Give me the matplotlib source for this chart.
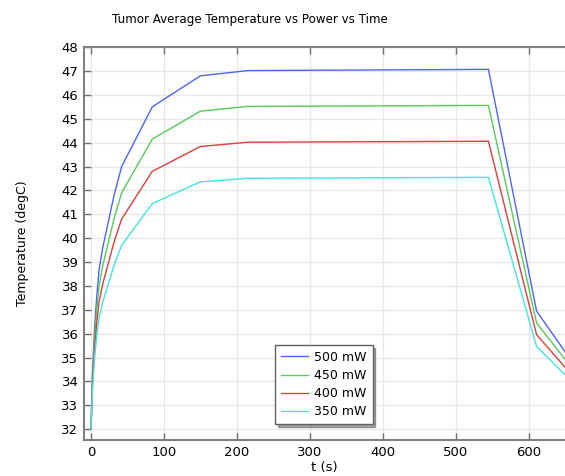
import numpy as np
import matplotlib
matplotlib.use("Agg")
import matplotlib.pyplot as plt

# time points (s)
t = [0, 2, 5, 8, 11, 16, 21, 32, 42, 84, 150, 215, 545, 611, 650]

# average tumour temperature (degC) for each power
temp_500 = [32, 34.3, 36.3, 37.6, 38.65, 39.6, 40.3, 41.85, 43.0, 45.5, 46.8, 47.02, 47.07, 36.95, 35.25]
temp_450 = [32, 34.07, 35.87, 37.04, 37.99, 38.84, 39.47, 40.87, 41.9, 44.15, 45.32, 45.52, 45.56, 36.45, 34.93]
temp_400 = [32, 33.84, 35.44, 36.48, 37.32, 38.08, 38.64, 39.88, 40.8, 42.8, 43.84, 44.02, 44.06, 35.96, 34.6]
temp_350 = [32, 33.61, 35.01, 35.92, 36.66, 37.32, 37.81, 38.9, 39.7, 41.45, 42.36, 42.51, 42.55, 35.47, 34.28]

labels = ["500 mW", "450 mW", "400 mW", "350 mW"]
colors = ["#4a64ff", "#55cc55", "#e03c3c", "#3ee6e6"]
series = [temp_500, temp_450, temp_400, temp_350]

fig = plt.figure(figsize=(5.65, 4.76), dpi=100)
ax = fig.add_axes([84/565, 1-440/476, 1-84/565, (440-46.7)/476])

for y, lab, c in zip(series, labels, colors):
    ax.plot(t, y, color=c, lw=1.0, label=lab)

ax.set_xlim(-9.6, 650)
ax.set_ylim(31.55, 48.02)
ax.set_xticks(np.arange(0, 700, 100))
ax.set_yticks(np.arange(32, 49, 1))
ax.grid(True, color="#e8e8e8", lw=1.0)
ax.set_axisbelow(True)

for s in ["left", "bottom", "top"]:
    ax.spines[s].set_color("#808080")
    ax.spines[s].set_linewidth(1.5)
ax.spines["right"].set_visible(False)
ax.tick_params(direction="in", top=True, right=False, length=5, width=1,
               color="#707070", labelsize=9.5, pad=4)

# title sits over the whole figure, not the axes
fig.text(250/565, 1-20/476, "Tumor Average Temperature vs Power vs Time",
         fontsize=8.6, ha="center", va="center")
ax.set_xlabel("t (s)", fontsize=9.5, labelpad=2)
ax.set_ylabel("Temperature (degC)", fontsize=9, labelpad=23)

leg = ax.legend(loc="upper left", bbox_to_anchor=(275/565, 1-345/476),
                bbox_transform=fig.transFigure, fontsize=9, shadow=True,
                fancybox=False, framealpha=1, edgecolor="#606060",
                handlelength=2.2, handletextpad=0.5, labelspacing=0.42,
                borderpad=0.45, borderaxespad=0)
leg.get_frame().set_linewidth(1.0)

fig.savefig("out.png", dpi=100)
